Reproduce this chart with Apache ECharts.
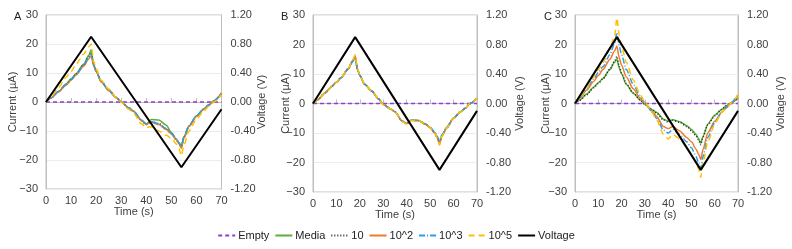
<!DOCTYPE html>
<html><head><meta charset="utf-8">
<script src="https://cdn.jsdelivr.net/npm/echarts@6/dist/echarts.min.js"></script>
<style>html,body{margin:0;padding:0;background:#fff}#c{width:792px;height:249px}</style>
</head><body><div id="c"></div>
<script>
// ---- data ----
const panels = ['A', 'B', 'C'];
const seriesNames = ['Empty', 'Media', '10', '10^2', '10^3', '10^5', 'Voltage'];
const timeTicks = [0, 10, 20, 30, 40, 50, 60, 70];
const currentTicks = [-30, -20, -10, 0, 10, 20, 30];
const voltageTicks = [-1.2, -0.8, -0.4, 0, 0.4, 0.8, 1.2];

const T = [0, 2, 5, 8, 10, 12, 15, 17, 18, 19, 20, 22, 25, 28, 30, 33, 35, 38, 40, 42, 45, 48, 50, 52, 53, 54, 55, 57, 60, 63, 65, 67, 70];

const emptyT = [0, 70];
const emptyI = [0, 0];
const voltT = [0, 18, 54, 70];
const voltV = [0, 0.9, -0.9, -0.1];

// Panel A currents (µA)
const A_media = [0, 1.4, 3.7, 6.2, 8, 9.8, 13, 16, 18, 13, 10.5, 7, 4, 1.5, 0, -2, -3.2, -6.2, -7.6, -6, -6.2, -8, -10.5, -12.8, -14, -15, -12, -8.3, -4.8, -2.4, -1, 0.4, 3];
const A_10 = [0, 1.4, 3.6, 6, 7.8, 9.6, 12.8, 15.5, 17, 12.8, 10.6, 7.2, 4.2, 1.6, 0, -2, -3.3, -6.4, -7.8, -6.8, -7.4, -9.3, -11, -13, -14.3, -15.5, -12.2, -8.4, -4.9, -2.4, -1, 0.4, 3];
const A_1e2 = [0, 1.3, 3.5, 5.8, 7.5, 9.3, 12.3, 14.8, 16, 12.5, 10.5, 7, 4, 1.5, 0, -2, -3.3, -6.3, -7.8, -7, -7.8, -9.5, -11, -13, -14.3, -16, -12.5, -8.5, -5, -2.5, -1, 0.3, 3];
const A_1e3 = [0, 1.4, 3.6, 6, 7.7, 9.5, 12.6, 15.2, 16.5, 12.8, 10.7, 7.2, 4.2, 1.6, 0.1, -2, -3.2, -6.2, -7.6, -6.8, -7.5, -9.2, -10.8, -12.8, -14, -15.5, -12, -8.2, -4.8, -2.3, -0.9, 0.4, 3.2];
const A_1e5 = [0, 1.8, 5, 8.5, 10.5, 13, 16.5, 19, 20, 14, 11.5, 7.5, 4.5, 1.5, 0, -2.5, -4, -7.5, -8.8, -8.5, -10, -11.5, -12.5, -14.5, -16, -18.5, -15, -10, -6, -3, -1.5, 0, 2.5];

// Panel B currents (µA)
const B_media = [0, 1.3, 3.5, 5.8, 7.2, 8.8, 11.8, 14.5, 15.8, 11.5, 9.5, 6.5, 4.3, 1.5, -0.3, -1.8, -2.8, -6, -6.8, -5.7, -5.8, -7, -8.2, -10, -11.5, -13.5, -11, -8.3, -5, -2.8, -1.6, 0, 1.8];
const B_10 = [0, 1.3, 3.5, 5.8, 7.2, 8.8, 11.8, 14.5, 15.8, 11.5, 9.5, 6.5, 4.3, 1.5, -0.3, -1.8, -2.8, -6, -6.8, -5.7, -5.8, -7, -8.2, -10, -11.5, -13.5, -11, -8.3, -5, -2.8, -1.6, 0, 1.8];
const B_1e2 = [0, 1.3, 3.5, 5.8, 7.2, 8.8, 11.8, 14.6, 16.2, 11.6, 9.5, 6.5, 4.3, 1.5, -0.3, -1.8, -2.8, -6, -6.9, -5.7, -5.8, -7, -8.2, -10.1, -11.6, -14, -11, -8.3, -5, -2.8, -1.6, 0, 1.8];
const B_1e3 = [0, 1.3, 3.5, 5.8, 7.1, 8.7, 11.6, 14.2, 15.3, 11.4, 9.4, 6.5, 4.2, 1.5, -0.3, -1.8, -2.8, -5.9, -6.7, -5.6, -5.7, -6.9, -8, -9.7, -11, -12.8, -10.6, -8, -4.9, -2.7, -1.5, 0, 1.8];
const B_1e5 = [0, 1.3, 3.5, 5.8, 7.2, 8.9, 11.9, 14.8, 16.5, 11.7, 9.6, 6.6, 4.3, 1.5, -0.3, -1.8, -2.8, -6, -7, -5.7, -5.8, -7, -8.2, -10.1, -11.6, -14, -11.1, -8.3, -5, -2.8, -1.6, 0, 1.8];

// Panel C currents (µA)
const C_media = [0, 1.2, 3.2, 5.5, 7, 8.5, 11.5, 14, 15, 12, 10, 6.5, 3.5, 1.2, -0.3, -2, -3, -5.3, -6, -5.5, -6.2, -7.5, -8.8, -10.5, -11.8, -13.5, -11, -7, -4, -2, -0.8, 0.2, 1.8];
const C_10 = [0, 1.1, 3, 5.3, 6.8, 8.4, 11.6, 14.4, 16, 12.5, 10.3, 6.8, 3.6, 1.2, -0.3, -2.1, -3.2, -5.6, -6.3, -5.7, -6.4, -7.8, -9.2, -11, -12.3, -14, -11.3, -7.3, -4.2, -2, -0.8, 0.2, 1.9];
const C_1e2 = [0, 1.8, 4.5, 7.5, 9.5, 11.5, 15, 17.8, 19.5, 15.5, 13, 9, 5, 1.8, 0, -2.5, -4.3, -7.8, -8.5, -7.8, -9.3, -11.5, -13, -15.5, -17, -19, -15.5, -10, -6, -3, -1.5, 0, 2.8];
const C_1e3 = [0, 2, 5, 8.3, 10.5, 12.5, 16.5, 20.5, 24, 19.5, 16.5, 11.5, 6.5, 2.5, 0.3, -2.8, -5, -9, -10, -8.8, -10.5, -13, -15, -18, -20, -22, -18, -11.5, -6.5, -3, -1.3, 0.3, 3];
const C_1e5 = [0, 2, 5.3, 9, 11.5, 14, 18.5, 23, 29, 23, 19.5, 14, 8, 3, 0.5, -3, -5.5, -10.5, -12, -10.5, -12, -15, -17, -20, -22, -25, -20, -13, -7, -3, -1.5, 0.2, 3];

const panelCurrents = [
  [A_media, A_10, A_1e2, A_1e3, A_1e5],
  [B_media, B_10, B_1e2, B_1e3, B_1e5],
  [C_media, C_10, C_1e2, C_1e3, C_1e5]
];

// ---- styles / layout ----
const grids = [
  {left: 46, top: 15, width: 175.5, height: 174},
  {left: 313, top: 15, width: 164, height: 177},
  {left: 575, top: 15, width: 163, height: 177}
];
const leftNameGap = [28, 22, 24];
const rightNameGap = [35, 37, 37];
const titleX = [9, 276, 539];
const styles = {
  'Empty':  {color: '#8E3FCF', width: 1.5, type: [4, 3]},
  'Media':  {color: '#5AAE3F', width: 1.5, type: 'solid'},
  '10':     {color: '#1F2A1F', width: 1.5, type: [1, 2]},
  '10^2':   {color: '#F07A2C', width: 1.5, type: 'solid'},
  '10^3':   {color: '#2F9BE3', width: 1.5, type: [6, 2, 1, 2]},
  '10^5':   {color: '#FFC000', width: 1.5, type: [6, 4]},
  'Voltage':{color: '#000000', width: 2, type: 'solid'}
};
const FONT = 'Liberation Sans, Arial, sans-serif';
const txt = '#404040';

const chart = echarts.init(document.getElementById('c'), null, {renderer: 'canvas'});

const xAxes = [], yAxes = [], series = [], titles = [];
panels.forEach((p, i) => {
  titles.push({text: p, left: titleX[i], top: 6, textStyle: {fontSize: 11, fontWeight: 'normal', fontFamily: FONT, color: '#222'}});
  xAxes.push({
    type: 'value', gridIndex: i, min: timeTicks[0], max: timeTicks[timeTicks.length - 1], interval: 10,
    name: 'Time (s)', nameLocation: 'middle', nameGap: 17, nameMoveOverlap: false,
    nameTextStyle: {fontSize: 11, fontFamily: FONT, color: txt},
    axisLine: {show: true, lineStyle: {color: '#bfbfbf'}},
    axisTick: {show: true, inside: true, length: 4, lineStyle: {color: '#bfbfbf'}},
    axisLabel: {fontSize: 11, fontFamily: FONT, color: txt, margin: 6},
    splitLine: {show: false}
  });
  yAxes.push({
    type: 'value', gridIndex: i, position: 'left', min: currentTicks[0], max: currentTicks[currentTicks.length - 1], interval: 10,
    name: 'Current (µA)', nameLocation: 'middle', nameGap: leftNameGap[i], nameRotate: 90, nameMoveOverlap: false,
    nameTextStyle: {fontSize: 11, fontFamily: FONT, color: txt},
    axisLine: {show: true, lineStyle: {color: '#bfbfbf'}},
    axisTick: {show: false},
    axisLabel: {fontSize: 11, fontFamily: FONT, color: txt, margin: 8,
      formatter: v => (v < 0 ? '\u2212' + Math.abs(v) : String(v))},
    splitLine: {show: true, lineStyle: {color: '#ececec'}}
  });
  yAxes.push({
    type: 'value', gridIndex: i, position: 'right', min: voltageTicks[0], max: voltageTicks[voltageTicks.length - 1], interval: 0.4,
    name: 'Voltage (V)', nameLocation: 'middle', nameGap: rightNameGap[i], nameRotate: 90, nameMoveOverlap: false,
    nameTextStyle: {fontSize: 11, fontFamily: FONT, color: txt},
    axisLine: {show: true, lineStyle: {color: '#bfbfbf'}},
    axisTick: {show: false},
    axisLabel: {fontSize: 11, fontFamily: FONT, color: txt, margin: 9, formatter: v => v.toFixed(2)},
    splitLine: {show: false}
  });
  const mk = (name, data, yIdx, z, smooth) => {
    const s = styles[name];
    series.push({
      name: name, type: 'line', xAxisIndex: i, yAxisIndex: yIdx, data: data,
      showSymbol: false, symbol: 'none', smooth: smooth, smoothMonotone: 'x', z: z,
      lineStyle: {color: s.color, width: s.width, type: s.type}, itemStyle: {color: s.color},
      animation: false
    });
  };
  mk('Empty', emptyT.map((t, k) => [t, emptyI[k]]), 2 * i, 3, false);
  const cur = panelCurrents[i];
  ['Media', '10', '10^2', '10^3', '10^5'].forEach((n, k) => {
    mk(n, T.map((t, j) => [t, cur[k][j]]), 2 * i, 4 + k, 0.25);
  });
  mk('Voltage', voltT.map((t, k) => [t, voltV[k]]), 2 * i + 1, 10, false);
});

chart.setOption({
  animation: false,
  backgroundColor: '#fff',
  title: titles,
  grid: grids.map(g => Object.assign({show: true, borderColor: '#bfbfbf', borderWidth: 1, containLabel: false}, g)),
  xAxis: xAxes,
  yAxis: yAxes,
  legend: {
    data: seriesNames, bottom: 3, left: 'center', itemWidth: 17, itemHeight: 8, itemGap: 5,
    itemStyle: {opacity: 0},
    textStyle: {fontSize: 11, fontFamily: FONT, color: '#222', padding: [0, 0, 0, -2]}
  },
  series: series
});
</script></body></html>
